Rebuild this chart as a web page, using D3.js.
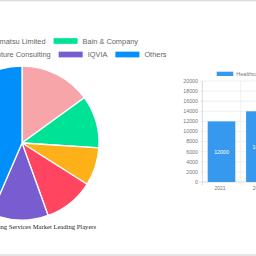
<!DOCTYPE html>
<html>
<head>
<meta charset="utf-8">
<script src="https://cdn.jsdelivr.net/npm/d3@7"></script>
<style>
  html, body { margin: 0; padding: 0; background: #fff; overflow: hidden; }
  svg { display: block; }
</style>
</head>
<body>
<div id="chart"></div>
<script>
// pie data: leading players (share, %)
const players = [
  "Deloitte Touche Tohmatsu Limited", "Bain & Company", "KPMG LLP",
  "Accenture Consulting", "IQVIA", "Others"
];
const shares = [15, 11, 8, 10.5, 12, 43.5];
const playerColors = ["#f7a5a8", "#00e396", "#feb019", "#ff4560", "#775dd0", "#008ffb"];
const legendRows = [[0, 1], [2, 3, 4, 5]];
const pieTitle = "Healthcare Consulting Services Market Leading Players";

// bar data: market size
const years = ["2021", "2022"];
const sizes = [12000, 14000];
const barSeries = "Healthcare Consulting Services Market Size";
const yTicks = [0, 2000, 4000, 6000, 8000, 10000, 12000, 14000, 16000, 18000, 20000];

const w = 256, h = 256;
const svg = d3.select("#chart").append("svg")
  .attr("width", w)
  .attr("height", h);

// page borders
svg.append("line").attr("x1", 0).attr("x2", w).attr("y1", 0.5).attr("y2", 0.5)
  .attr("stroke", "#dcdcdc").attr("stroke-width", 1.5);
svg.append("line").attr("x1", 0).attr("x2", w).attr("y1", 255).attr("y2", 255)
  .attr("stroke", "#dcdcdc").attr("stroke-width", 1.5);

// ---------- PIE ----------
const cx = 22, cy = 143, r = 77;
const pie = d3.pie().sort(null).value(d => d);
const arc = d3.arc().innerRadius(0).outerRadius(r);
const pieG = svg.append("g").attr("transform", `translate(${cx},${cy})`);
pieG.selectAll("path")
  .data(pie(shares))
  .enter()
  .append("path")
  .attr("d", arc)
  .attr("fill", (d, i) => playerColors[i])
  .attr("stroke", "#fff")
  .attr("stroke-width", 1.3);

// pie legend (rows centred on pie)
const legFont = 7.4;
const boxW = 24, boxH = 5.7, boxGap = 5, itemGap = 8;
const rowY = [41, 54.5];
const measure = svg.append("text").style("font-family", "Liberation Sans, Arial, sans-serif")
  .style("font-size", legFont + "px");
function textW(t) { measure.text(t); return measure.node().getComputedTextLength(); }

legendRows.forEach((row, ri) => {
  const widths = row.map(i => boxW + boxGap + textW(players[i]));
  const total = d3.sum(widths) + itemGap * (row.length - 1);
  let x = cx - total / 2;
  row.forEach((i, k) => {
    svg.append("rect")
      .attr("x", x).attr("y", rowY[ri] - boxH / 2)
      .attr("width", boxW).attr("height", boxH)
      .attr("fill", playerColors[i]);
    svg.append("text")
      .attr("x", x + boxW + boxGap).attr("y", rowY[ri])
      .attr("dy", "0.35em")
      .style("font-family", "Liberation Sans, Arial, sans-serif")
      .style("font-size", legFont + "px")
      .attr("fill", "#666")
      .text(players[i]);
    x += widths[k] + itemGap;
  });
});
measure.remove();

svg.append("text")
  .attr("x", cx).attr("y", 227)
  .attr("text-anchor", "middle")
  .attr("dy", "0.35em")
  .style("font-family", "Liberation Serif, Times New Roman, serif")
  .style("font-size", "6.6px")
  .attr("fill", "#222")
  .text(pieTitle);

// ---------- BAR ----------
const axisX = 202.3, band = 38.4;
const y0 = 182, y1 = 81;
const xScale = d3.scaleBand()
  .domain(years)
  .range([axisX, axisX + band * years.length])
  .paddingInner(0).paddingOuter(0);
const yScale = d3.scaleLinear().domain([0, 20000]).range([y0, y1]);

const gridG = svg.append("g");
// horizontal grid + tick stubs
gridG.selectAll("line.h")
  .data(yTicks)
  .enter().append("line")
  .attr("class", "h")
  .attr("x1", axisX - 3).attr("x2", w)
  .attr("y1", d => yScale(d)).attr("y2", d => yScale(d))
  .attr("stroke", d => d === 0 ? "#d0d0d0" : "#ececec")
  .attr("stroke-width", 0.8);
// vertical grid at band edges
const edges = years.map(d => xScale(d)).concat([xScale(years[years.length - 1]) + band]);
gridG.selectAll("line.v")
  .data(edges)
  .enter().append("line")
  .attr("class", "v")
  .attr("x1", d => d).attr("x2", d => d)
  .attr("y1", y1).attr("y2", y0 + 3)
  .attr("stroke", (d, i) => i === 0 ? "#d0d0d0" : "#ececec")
  .attr("stroke-width", 0.8);

// y labels
svg.selectAll("text.yl")
  .data(yTicks)
  .enter().append("text")
  .attr("class", "yl")
  .attr("x", 198).attr("y", d => yScale(d))
  .attr("dy", "0.35em")
  .attr("text-anchor", "end")
  .style("font-family", "Liberation Sans, Arial, sans-serif")
  .style("font-size", "5.3px")
  .attr("fill", "#777")
  .text(d => d);

// x labels
svg.selectAll("text.xl")
  .data(years)
  .enter().append("text")
  .attr("class", "xl")
  .attr("x", d => xScale(d) + band / 2 - 1.5).attr("y", 188.5)
  .attr("dy", "0.35em")
  .attr("text-anchor", "middle")
  .style("font-family", "Liberation Sans, Arial, sans-serif")
  .style("font-size", "5px")
  .attr("fill", "#777")
  .text(d => d);

// bars
const barW = band * 0.72;
svg.selectAll("rect.bar")
  .data(sizes)
  .enter().append("rect")
  .attr("class", "bar")
  .attr("x", (d, i) => xScale(years[i]) + (band - barW) / 2)
  .attr("y", d => yScale(d))
  .attr("width", barW)
  .attr("height", d => y0 - yScale(d))
  .attr("fill", "#3799ee");

svg.selectAll("text.bl")
  .data(sizes)
  .enter().append("text")
  .attr("class", "bl")
  .attr("x", (d, i) => xScale(years[i]) + band / 2)
  .attr("y", d => (yScale(d) + y0) / 2)
  .attr("dy", "0.35em")
  .attr("text-anchor", "middle")
  .style("font-family", "Liberation Sans, Arial, sans-serif")
  .style("font-size", "5.3px")
  .attr("fill", "#fff")
  .text(d => d);

// bar legend
svg.append("rect")
  .attr("x", 216.7).attr("y", 71.7)
  .attr("width", 16.6).attr("height", 4.3)
  .attr("fill", "#3799ee");
svg.append("text")
  .attr("x", 236.3).attr("y", 74)
  .attr("dy", "0.35em")
  .style("font-family", "Liberation Sans, Arial, sans-serif")
  .style("font-size", "5.5px")
  .attr("fill", "#777")
  .text(barSeries);
</script>
</body>
</html>
